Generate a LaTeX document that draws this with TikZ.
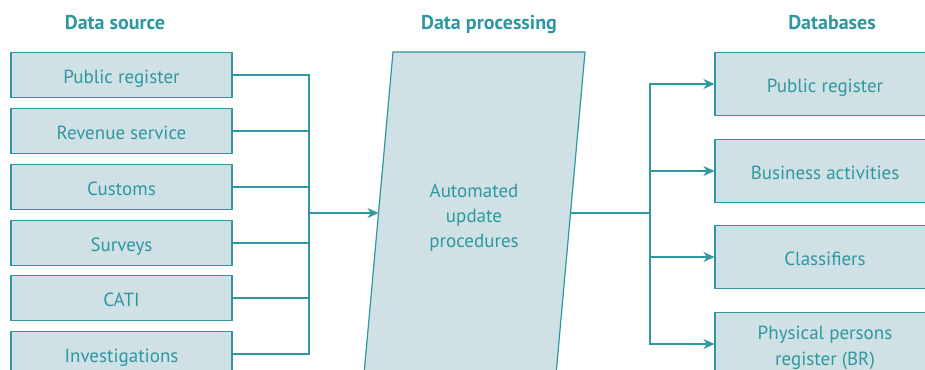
\documentclass[tikz,border=0pt]{standalone}
\usepackage{fontspec}
\setmainfont{PT Sans}
\usetikzlibrary{arrows.meta}
\definecolor{teal1}{RGB}{46,152,160}
\definecolor{boxfill}{RGB}{207,225,228}
\begin{document}
\begin{tikzpicture}[x=1pt,y=-1pt,
  box/.style={draw=teal1, fill=boxfill, line width=1.2pt, text=teal1,
    font=\fontsize{19}{24}\selectfont, align=center, inner sep=0pt,
    text height=18pt, text depth=2pt},
  srcbox/.style={box, minimum width=221pt, minimum height=45pt},
  dbbox/.style={box, minimum width=220pt, minimum height=63pt},
  conn/.style={draw=teal1, line width=1.2pt},
  arr/.style={conn, -{Stealth[length=11pt,width=10pt,inset=3.5pt]}},
  head/.style={text=teal1, font=\bfseries\fontsize{20}{22}\selectfont, anchor=base}]
\useasboundingbox (0,0) rectangle (925,369);
\clip (0,0) rectangle (925,369);

% headers
\node[head] (h1) at (115,30) {Data source};
\node[head] (h2) at (489,30) {Data processing};
\node[head] (h3) at (832,30) {Databases};

% source boxes
\node[srcbox] (s1) at (121.5,75) {Public register};
\node[srcbox] (s2) at (121.5,131) {Revenue service};
\node[srcbox] (s3) at (121.5,187) {Customs};
\node[srcbox] (s4) at (121.5,243) {Surveys};
\node[srcbox] (s5) at (121.5,298) {CATI};
\node[srcbox] (s6) at (121.5,354) {Investigations};

% processing parallelogram
\coordinate (ptl) at (393,52);
\coordinate (ptr) at (585,52);
\coordinate (pbr) at (553.7,400);
\coordinate (pbl) at (361.7,400);
\draw[draw=teal1, fill=boxfill, line width=1.2pt] (ptl) -- (ptr) -- (pbr) -- (pbl) -- cycle;
\node[text=teal1, font=\fontsize{19}{25}\selectfont, align=center,
  inner sep=0pt, text height=64pt, text depth=4pt] (proc) at (474,217) {Automated\\update\\procedures};
\coordinate (pin) at (378.5,213);
\coordinate (pout) at (570.5,213);

% database boxes
\node[dbbox] (d1) at (825,84) {Public register};
\node[dbbox] (d2) at (825,171) {Business activities};
\node[dbbox] (d3) at (825,257) {Classifiers};
\node[dbbox, font=\fontsize{19}{26}\selectfont, text height=44pt, text depth=2pt] (d4) at (825,344) {Physical persons\\register (BR)};

% connectors
\coordinate (jl) at (309,213);
\coordinate (jr) at (650,213);
\foreach \i in {1,...,6} {\draw[conn] (s\i.east) -| (jl);}
\draw[arr] (jl) -- (pin);
\draw[conn] (pout) -- (jr);
\foreach \i in {1,...,4} {\draw[arr] (jr) |- (d\i.west);}
\end{tikzpicture}
\end{document}
